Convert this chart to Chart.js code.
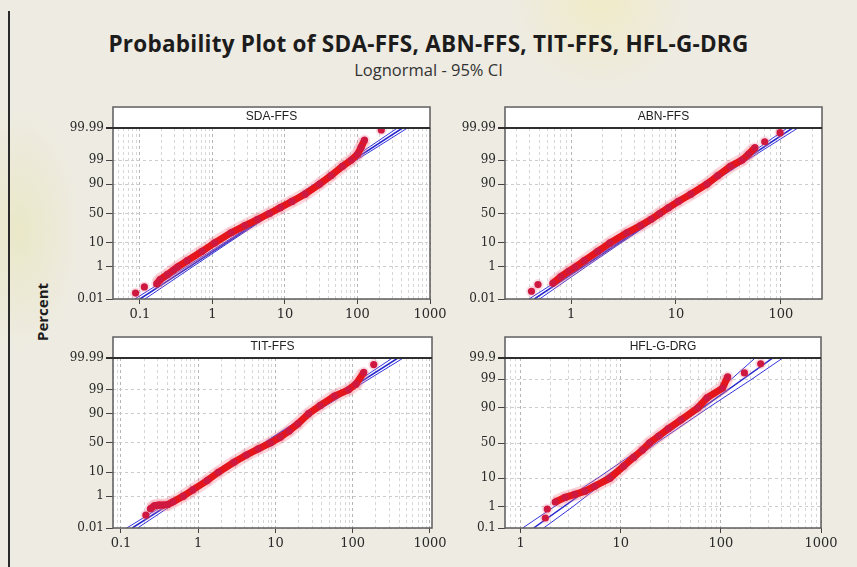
<!DOCTYPE html>
<html>
<head>
<meta charset="utf-8">
<title>Probability Plot</title>
<script src="https://cdn.jsdelivr.net/npm/chart.js@4.4.1/dist/chart.umd.min.js"></script>
<style>
  body { margin: 0; width: 857px; height: 567px; overflow: hidden; position: relative; font-family: 'Open Sans', sans-serif;
         background: radial-gradient(circle at 600px 0px, rgba(245,235,150,0.35), rgba(245,235,150,0) 90px),
                     radial-gradient(ellipse 60px 120px at 20px 230px, rgba(225,225,150,0.35), rgba(225,225,150,0)),
                     #eeebe2; }
  #edge { position: absolute; left: 8px; top: 11px; width: 2px; height: 556px; background: #2a2a2a; }
  #title { position: absolute; left: 0; width: 857px; top: 30px; text-align: center; font-weight: bold; font-size: 22.5px; letter-spacing: 0.25px; line-height: 28px; color: #1c1c1c; }
  #subtitle { position: absolute; left: 0; width: 857px; top: 60px; text-align: center; font-size: 16.5px; line-height: 20px; color: #333; }
  #ylabel { position: absolute; left: -8px; top: 302px; width: 100px; height: 20px; line-height: 20px; text-align: center; transform: rotate(-90deg); font-weight: bold; font-size: 15px; color: #1c1c1c; }
  canvas { position: absolute; }
</style>
</head>
<body>
<div id="edge"></div>
<div id="title">Probability Plot of SDA-FFS, ABN-FFS, TIT-FFS, HFL-G-DRG</div>
<div id="subtitle">Lognormal - 95% CI</div>
<div id="ylabel">Percent</div>
<canvas id="sda_chart" width="387" height="223" style="left:63px;top:106px"></canvas>
<canvas id="abn_chart" width="387" height="223" style="left:455px;top:106px"></canvas>
<canvas id="tit_chart" width="389" height="222" style="left:63px;top:336px"></canvas>
<canvas id="hfl_chart" width="386" height="222" style="left:455px;top:336px"></canvas>
<script>
// percent ticks on the probability axis
const pct_ticks = [0.01, 1, 10, 50, 90, 99, 99.99];
const hfl_pct_ticks = [0.1, 1, 10, 50, 90, 99, 99.9];

// SDA-FFS
const sda_x   = [0.087, 0.115, 0.17, 0.19, 0.24, 0.29, 0.33, 0.45, 0.72, 1.07, 1.8, 2.8, 4.2, 6.1, 8.6, 12.5, 19, 30, 43, 62, 82, 100, 112, 125, 213];
const sda_pct = [0.027, 0.07, 0.11, 0.2, 0.4, 0.7, 1, 2, 5, 10, 20, 30, 40, 50, 60, 70, 80, 90, 95, 98, 99, 99.5, 99.8, 99.93, 99.986];
const sda_fit = [0.1, 417];
const sda_ci_lo = [0.085, 0.43, 1.43, 6.17, 25.3, 78.9, 355];
const sda_ci_hi = [0.117, 0.528, 1.65, 6.76, 29.1, 97, 490];
const sda_x_ticks = [0.1, 1, 10, 100, 1000];

// ABN-FFS
const abn_x   = [0.42, 0.485, 0.67, 0.8, 0.95, 1.1, 1.34, 1.8, 2.35, 3.4, 4.6, 5.8, 7.0, 8.5, 10.5, 13.8, 19.7, 25, 33, 42.5, 49, 56.5, 70, 98];
const abn_pct = [0.036, 0.1, 0.12, 0.3, 0.6, 1, 2, 5, 10, 20, 30, 40, 50, 60, 70, 80, 90, 95, 98, 99, 99.5, 99.79, 99.91, 99.978];
const abn_fit = [0.447, 129];
const abn_ci_lo = [0.398, 1.204, 2.73, 7.33, 19.2, 41.6, 115];
const abn_ci_hi = [0.501, 1.38, 2.99, 7.85, 21.1, 47.8, 145];
const abn_x_ticks = [1, 10, 100];

// TIT-FFS
const tit_x   = [0.21, 0.24, 0.27, 0.31, 0.35, 0.4, 0.47, 0.64, 0.85, 1.3, 1.82, 2.9, 4.2, 6.0, 8.6, 11.5, 15, 19.5, 26.8, 38, 58, 88, 110, 139, 187];
const tit_pct = [0.08, 0.2, 0.3, 0.33, 0.33, 0.35, 0.5, 1, 2, 5, 10, 20, 30, 40, 50, 60, 70, 80, 90, 95, 98, 99, 99.5, 99.9, 99.97];
const tit_fit = [0.14, 384];
const tit_ci_lo = [0.119, 0.556, 1.75, 7.0, 26.8, 78.5, 327];
const tit_ci_hi = [0.164, 0.684, 2.01, 7.67, 30.7, 96.6, 451];
const tit_x_ticks = [0.1, 1, 10, 100, 1000];

// HFL-G-DRG
const hfl_x   = [1.77, 1.85, 2.22, 2.79, 3.5, 4.4, 5.5, 7.8, 10.7, 13.5, 16.5, 19.4, 24, 30, 40, 59, 73, 104, 117, 172, 250];
const hfl_pct = [0.32, 0.82, 1.6, 2.4, 3.1, 4, 5.8, 10, 20, 30, 40, 50, 60, 70, 80, 90, 95, 97.7, 99.2, 99.46, 99.8];
const hfl_fit = [1.35, 330];
const hfl_ci_lo = [1.05, 2.15, 5.85, 19.2, 57, 128, 220];
const hfl_ci_hi = [1.7, 3.3, 7.7, 22.8, 75, 205, 415];
const hfl_x_ticks = [1, 10, 100, 1000];

// inverse normal cdf (Acklam), used for the probability axis
function z_of(p) {
  const q = p / 100;
  const a = [-3.969683028665376e+01, 2.209460984245205e+02, -2.759285104469687e+02, 1.383577518672690e+02, -3.066479806614716e+01, 2.506628277459239e+00];
  const b = [-5.447609879822406e+01, 1.615858368580409e+02, -1.556989798598866e+02, 6.680131188771972e+01, -1.328068155288572e+01];
  const c = [-7.784894002430293e-03, -3.223964580411365e-01, -2.400758277161838e+00, -2.549732539343734e+00, 4.374664141464968e+00, 2.938163982698783e+00];
  const d = [7.784695709041462e-03, 3.224671290700398e-01, 2.445134137142996e+00, 3.754408661907416e+00];
  const plow = 0.02425;
  let s, r;
  if (q < plow) {
    s = Math.sqrt(-2 * Math.log(q));
    return (((((c[0]*s+c[1])*s+c[2])*s+c[3])*s+c[4])*s+c[5]) / ((((d[0]*s+d[1])*s+d[2])*s+d[3])*s+1);
  }
  if (q > 1 - plow) {
    s = Math.sqrt(-2 * Math.log(1 - q));
    return -(((((c[0]*s+c[1])*s+c[2])*s+c[3])*s+c[4])*s+c[5]) / ((((d[0]*s+d[1])*s+d[2])*s+d[3])*s+1);
  }
  s = q - 0.5;
  r = s * s;
  return (((((a[0]*r+a[1])*r+a[2])*r+a[3])*r+a[4])*r+a[5])*s / (((((b[0]*r+b[1])*r+b[2])*r+b[3])*r+b[4])*r+1);
}

// 1..9 x 10^n grid positions for the log axis
function log_grid(min, max) {
  const out = [];
  for (let e = Math.floor(Math.log10(min)); e <= Math.ceil(Math.log10(max)); e++) {
    for (let m = 1; m <= 9; m++) {
      const v = parseFloat((m * Math.pow(10, e)).toPrecision(6));
      if (v >= min * 0.999 && v <= max * 1.001) out.push(v);
    }
  }
  return out;
}

// white panel, header strip with the series name, frame
const panel_frame = {
  id: 'panel_frame',
  beforeDraw(chart) {
    const {ctx, chartArea: a} = chart;
    ctx.save();
    ctx.fillStyle = '#ffffff';
    ctx.fillRect(a.left, a.top - 22, a.right - a.left, a.bottom - a.top + 22);
    ctx.restore();
  },
  afterDraw(chart, args, opts) {
    const {ctx, chartArea: a} = chart;
    ctx.save();
    ctx.strokeStyle = '#5c5c5c';
    ctx.lineWidth = 1.5;
    ctx.strokeRect(a.left, a.top - 21, a.right - a.left, a.bottom - a.top + 21);
    ctx.strokeStyle = '#2e2e2e';
    ctx.lineWidth = 2;
    ctx.beginPath();
    ctx.moveTo(a.left - 7, a.top);
    ctx.lineTo(a.right, a.top);
    ctx.stroke();
    ctx.fillStyle = '#222';
    ctx.font = '12px "Liberation Sans"';
    ctx.textAlign = 'center';
    ctx.textBaseline = 'middle';
    ctx.fillText(opts.name, (a.left + a.right) / 2, a.top - 11);
    ctx.restore();
  }
};

function build_panel(canvas_id, p) {
  const to_pts = (xs, ps) => xs.map((x, i) => ({x: x, y: z_of(ps[i])}));
  const grid_vals = log_grid(p.x_min, p.x_max);
  const is_major = v => p.x_ticks.some(t => Math.abs(t - v) / t < 1e-6);
  const n = p.xs.length;
  const ends = [p.pct_ticks[0], p.pct_ticks[p.pct_ticks.length - 1]];
  const gap = s => s.p0DataIndex < p.head || s.p1DataIndex > n - 1 - p.tail;

  return new Chart(document.getElementById(canvas_id), {
    type: 'scatter',
    data: {
      datasets: [
        {
          label: p.name,
          data: to_pts(p.xs, p.pcts),
          showLine: true,
          borderColor: '#e4161c',
          borderWidth: 7,
          pointRadius: 3.6,
          pointBackgroundColor: '#cf183f',
          pointBorderWidth: 0,
          segment: { borderColor: s => gap(s) ? 'rgba(0,0,0,0)' : undefined }
        },
        {
          label: 'halo',
          data: to_pts(p.xs, p.pcts),
          showLine: true,
          borderColor: 'rgba(240,110,130,0.28)',
          borderWidth: 13,
          pointRadius: 5.5,
          pointBackgroundColor: 'rgba(235,120,150,0.25)',
          pointBorderWidth: 0,
          segment: { borderColor: s => gap(s) ? 'rgba(0,0,0,0)' : undefined }
        },
        { label: 'fit', data: to_pts(p.fit, ends), showLine: true, borderColor: '#2626cf', borderWidth: 1.5, pointRadius: 0 },
        { label: 'lower', data: to_pts(p.ci_lo, p.pct_ticks), showLine: true, borderColor: '#3434dc', borderWidth: 1, pointRadius: 0 },
        { label: 'upper', data: to_pts(p.ci_hi, p.pct_ticks), showLine: true, borderColor: '#3434dc', borderWidth: 1, pointRadius: 0 }
      ]
    },
    options: {
      responsive: false,
      animation: false,
      layout: { padding: { top: 22, right: 20, left: 0, bottom: 0 } },
      plugins: {
        legend: { display: false },
        tooltip: { enabled: false },
        panel_frame: { name: p.name }
      },
      scales: {
        x: {
          type: 'logarithmic',
          min: p.x_min,
          max: p.x_max,
          afterBuildTicks: s => { s.ticks = grid_vals.map(v => ({value: v})); },
          afterFit: s => { s.height = 30; },
          ticks: {
            autoSkip: false, maxRotation: 0, padding: 3, color: '#2a2a2a', font: {family: 'DejaVu Serif', size: 13},
            callback: v => is_major(v) ? String(v) : ''
          },
          grid: {
            color: c => is_major(c.tick.value) ? '#b5b5b5' : '#d6d6d6',
            tickColor: c => is_major(c.tick.value) ? '#444' : 'rgba(0,0,0,0)',
            tickLength: 5
          },
          border: { display: false, dash: [3, 3] }
        },
        y: {
          type: 'linear',
          min: z_of(ends[0]),
          max: z_of(ends[1]),
          afterBuildTicks: s => { s.ticks = p.pct_ticks.map(v => ({value: z_of(v)})); },
          afterFit: s => { s.width = 50; },
          ticks: {
            autoSkip: false, padding: 2, color: '#2a2a2a', font: {family: 'DejaVu Serif', size: 12},
            callback: (v, i) => String(p.pct_ticks[i])
          },
          grid: { color: '#cccccc', tickColor: '#444', tickLength: 7 },
          border: { display: false, dash: [3, 3] }
        }
      }
    },
    plugins: [panel_frame]
  });
}

build_panel('sda_chart', { name: 'SDA-FFS', xs: sda_x, pcts: sda_pct, head: 2, tail: 1, fit: sda_fit, ci_lo: sda_ci_lo, ci_hi: sda_ci_hi,
  pct_ticks: pct_ticks, x_ticks: sda_x_ticks, x_min: 0.0425, x_max: 1000 });
build_panel('abn_chart', { name: 'ABN-FFS', xs: abn_x, pcts: abn_pct, head: 2, tail: 2, fit: abn_fit, ci_lo: abn_ci_lo, ci_hi: abn_ci_hi,
  pct_ticks: pct_ticks, x_ticks: abn_x_ticks, x_min: 0.235, x_max: 246 });
build_panel('tit_chart', { name: 'TIT-FFS', xs: tit_x, pcts: tit_pct, head: 1, tail: 1, fit: tit_fit, ci_lo: tit_ci_lo, ci_hi: tit_ci_hi,
  pct_ticks: pct_ticks, x_ticks: tit_x_ticks, x_min: 0.0788, x_max: 1062 });
build_panel('hfl_chart', { name: 'HFL-G-DRG', xs: hfl_x, pcts: hfl_pct, head: 2, tail: 2, fit: hfl_fit, ci_lo: hfl_ci_lo, ci_hi: hfl_ci_hi,
  pct_ticks: hfl_pct_ticks, x_ticks: hfl_x_ticks, x_min: 0.744, x_max: 1000 });
</script>
</body>
</html>
